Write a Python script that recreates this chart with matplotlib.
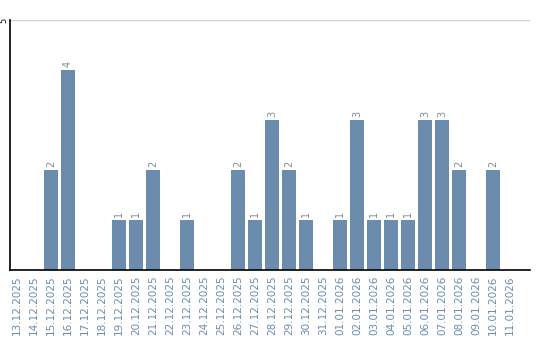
import matplotlib
matplotlib.use('Agg')
import matplotlib.pyplot as plt

dates = ['13.12.2025', '14.12.2025', '15.12.2025', '16.12.2025', '17.12.2025',
         '18.12.2025', '19.12.2025', '20.12.2025', '21.12.2025', '22.12.2025',
         '23.12.2025', '24.12.2025', '25.12.2025', '26.12.2025', '27.12.2025',
         '28.12.2025', '29.12.2025', '30.12.2025', '31.12.2025', '01.01.2026',
         '02.01.2026', '03.01.2026', '04.01.2026', '05.01.2026', '06.01.2026',
         '07.01.2026', '08.01.2026', '09.01.2026', '10.01.2026', '11.01.2026']
counts = [0, 0, 2, 4, 0, 0, 1, 1, 2, 0, 1, 0, 0, 2, 1, 3, 2, 1, 0, 1,
          3, 1, 1, 1, 3, 3, 2, 0, 2, 0]

bar_color = '#6b8cac'
text_color = '#6a8cae'

fig = plt.figure(figsize=(5.4, 3.4), dpi=100)
ax = fig.add_axes([10/540, 1 - 270/340, 520/540, 250/340])

x = list(range(len(dates)))
bars = ax.bar(x, counts, width=0.82, color=bar_color)
for xi, v in zip(x, counts):
    if v > 0:
        ax.text(xi, v + 0.06, str(v), rotation=90, ha='center', va='bottom',
                fontsize=7, color='#7f8c99')

ax.set_xlim(-0.41, 30.18)
ax.set_ylim(0, 5)
ax.set_yticks([5])
ax.set_yticklabels(['5'], rotation=90, fontsize=6, va='center')
ax.tick_params(axis='y', length=0, pad=1)
ax.axhline(5, color='#cccccc', lw=1, zorder=0)

ax.set_xticks(x)
ax.set_xticklabels(dates, rotation=90, fontsize=7.5, color=text_color)
ax.tick_params(axis='x', length=0, pad=4)

ax.spines['top'].set_visible(False)
ax.spines['right'].set_visible(False)
ax.spines['left'].set_linewidth(1.2)
ax.spines['bottom'].set_linewidth(1.2)

fig.savefig('out.png', dpi=100)
